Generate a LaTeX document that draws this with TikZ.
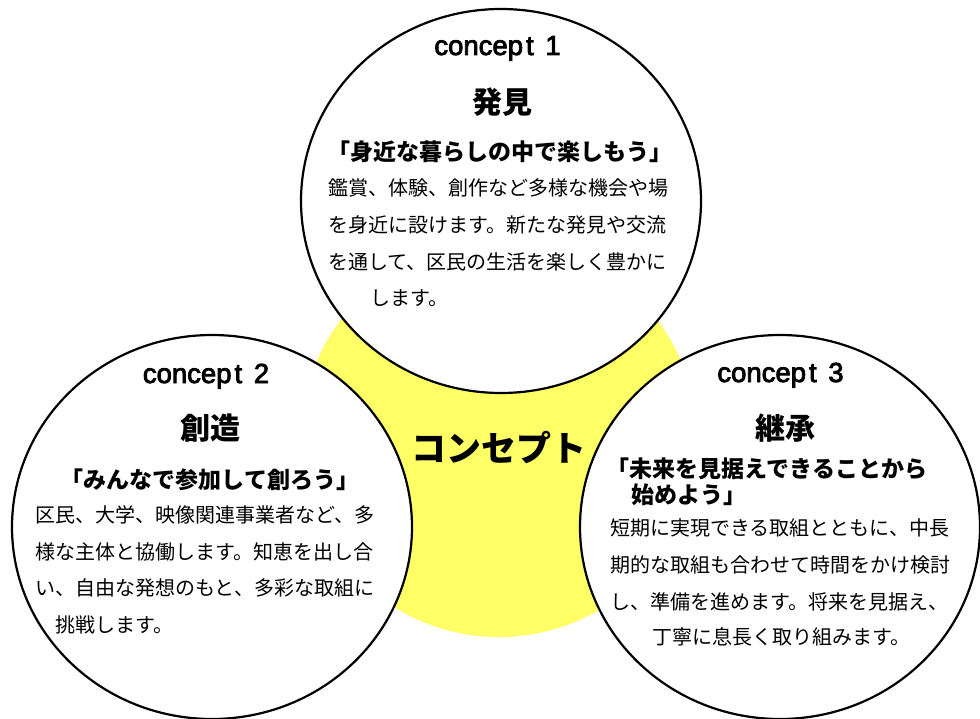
\documentclass[tikz,border=0pt]{standalone}
\usepackage{fontspec}
\setmainfont{Liberation Sans}
\newfontfamily\latf{Liberation Sans}[FakeBold=3]
\newfontfamily\jp{Noto Sans CJK JP}
\usetikzlibrary{shapes.geometric}
\definecolor{yel}{RGB}{255,255,102}
\begin{document}
\begin{tikzpicture}[x=1pt,y=-1pt,
  circ/.style={ellipse, draw=black, line width=2.2pt, fill=white, minimum width=400pt, minimum height=384pt, inner sep=0pt},
  lat/.style={font=\latf\fontsize{27.5}{27.5}\selectfont, inner sep=0pt, anchor=base},
  head/.style={font=\jp\bfseries\fontsize{30}{30}\selectfont, inner sep=0pt, text height=24.9pt, text depth=2.1pt},
  quot/.style={font=\jp\bfseries\fontsize{23}{23}\selectfont, inner sep=0pt, text height=19.1pt, text depth=1.6pt},
  body/.style={font=\jp\fontsize{20}{20}\selectfont, inner sep=0pt, anchor=west, text height=16.6pt, text depth=1.4pt},
  centre/.style={font=\jp\bfseries\fontsize{35}{35}\selectfont, inner sep=0pt, text height=29pt, text depth=2.5pt}]
\useasboundingbox (0,0) rectangle (980,719);
\fill[white] (0,0) rectangle (980,719);
% yellow background circle
\node[ellipse, fill=yel, minimum width=396pt, minimum height=396pt, inner sep=0pt] (yc) at (499,439) {};
% three concept circles
\node[circ] (c1) at (501,201) {};
\node[circ] (c2) at (212,527) {};
\node[circ] (c3) at (780,527) {};
% centre label
\node[centre] (cl) at (498.5,448) {コンセプト};
% concept 1
\node[lat] (t1) at (497.5,55) {concep\kern3pt t\kern4pt{} 1};
\node[head] (h1) at (502,102) {発見};
\node[quot] (q1) at (500,152) {「身近な暮らしの中で楽しもう」};
\node[body] (b11) at (328,188) {鑑賞、体験、創作など多様な機会や場};
\node[body] (b12) at (328,225) {を身近に設けます。新たな発見や交流};
\node[body] (b13) at (328,262) {を通して、区民の生活を楽しく豊かに};
\node[body] (b14) at (370,298) {します。};
% concept 2
\node[lat] (t2) at (206,383) {concep\kern3pt t\kern4pt{} 2};
\node[head] (h2) at (210,428) {創造};
\node[quot] (q2) at (210,480) {「みんなで参加して創ろう」};
\node[body] (b21) at (35,515) {区民、大学、映像関連事業者など、多};
\node[body] (b22) at (35,552) {様な主体と協働します。知恵を出し合};
\node[body] (b23) at (35,588) {い、自由な発想のもと、多彩な取組に};
\node[body] (b24) at (55,625) {挑戦します。};
% concept 3
\node[lat] (t3) at (780.5,382) {concep\kern3pt t\kern4pt{} 3};
\node[head] (h3) at (785,428) {継承};
\node[quot, anchor=west] (q31) at (606,469) {「未来を見据えできることから};
\node[quot, anchor=west] (q32) at (631,495) {始めよう」};
\node[body] (b31) at (610,528) {短期に実現できる取組とともに、中長};
\node[body] (b32) at (610,565) {期的な取組も合わせて時間をかけ検討};
\node[body] (b33) at (610,602) {し、準備を進めます。将来を見据え、};
\node[body] (b34) at (652,637) {丁寧に息長く取り組みます。};
\end{tikzpicture}
\end{document}
